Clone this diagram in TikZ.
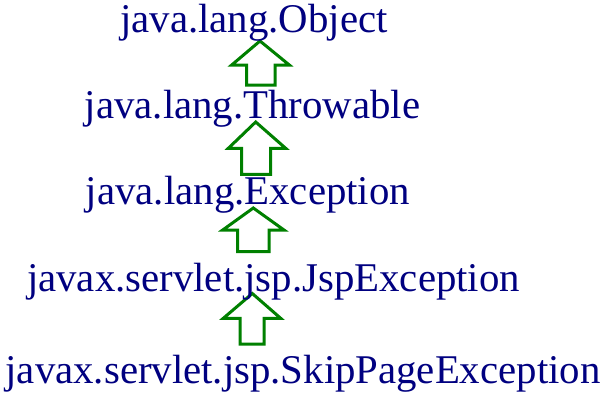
\documentclass[tikz,border=0pt]{standalone}
\usepackage{fontspec}
\setmainfont{Liberation Serif}
\definecolor{navytext}{RGB}{0,0,128}
\definecolor{arrowgreen}{RGB}{0,128,0}
\tikzset{
  lbl/.style={text=navytext, font=\fontsize{40.8}{44}\selectfont, inner sep=0pt, anchor=base},
  blockarrow/.style={draw=arrowgreen, line width=3pt, line join=miter, fill=none}
}
% tipx, tipy, headL, headR, baseY, shaftL, shaftR, bottomY
\newcommand{\myblockarrow}[8]{%
  \draw[blockarrow] (#1,#2) -- (#4,#5) -- (#7,#5) -- (#7,#8) -- (#6,#8) -- (#6,#5) -- (#3,#5) -- cycle;}
\begin{document}
\begin{tikzpicture}[x=1pt,y=-1pt]
\useasboundingbox (0,0) rectangle (608,405);
\myblockarrow{260}{41}{231.7}{289.3}{65}{246.7}{275}{85}
\myblockarrow{255.7}{122}{228.3}{285.7}{148.3}{241.7}{270.7}{174.3}
\myblockarrow{253.3}{208}{222.7}{284}{230}{237.7}{269}{251.7}
\myblockarrow{252.3}{293.5}{223.3}{280.7}{318.3}{240}{264}{344}
\node[lbl] (o) at (254,32) {java.lang.Object};
\node[lbl] (t) at (252.5,118) {java.lang.Throwable};
\node[lbl] (e) at (248,204) {java.lang.Exception};
\node[lbl] (j) at (273.5,291) {javax.servlet.jsp.JspException};
\node[lbl] (s) at (303,383) {javax.servlet.jsp.SkipPageException};
\end{tikzpicture}
\end{document}
